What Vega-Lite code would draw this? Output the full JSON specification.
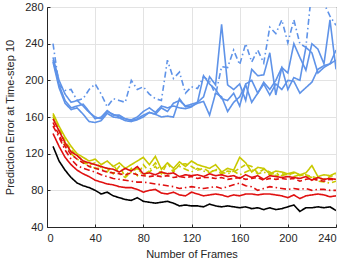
{
  "$schema": "https://vega.github.io/schema/vega-lite/v6.json",
  "width": 289,
  "height": 220,
  "autosize": "none",
  "padding": {"left": 47, "top": 7, "right": 11, "bottom": 36},
  "config": {
    "font": "Liberation Sans",
    "view": {"stroke": "#262626", "strokeWidth": 1},
    "axis": {
      "labelFontSize": 11,
      "titleFontSize": 11,
      "labelColor": "#262626",
      "titleColor": "#262626",
      "titleFontWeight": "normal",
      "domainColor": "#262626",
      "tickColor": "#262626",
      "gridColor": "#e3e3e3",
      "tickSize": -3
    }
  },
  "data": {"values": [
    {"f":5,"bdd":240,"bs1":225,"bs2":222,"bs3":220,"ys":164,"yd":162,"ydd":160,"rs1":158,"rd":154,"rdd":150,"rs2":142,"bk":128},
    {"f":10,"bdd":195,"bs1":200,"bs2":195,"bs3":192,"ys":150,"yd":148,"ydd":145,"rs1":145,"rd":140,"rdd":138,"rs2":128,"bk":112},
    {"f":15,"bdd":189,"bs1":185,"bs2":178,"bs3":175,"ys":138,"yd":134,"ydd":130,"rs1":132,"rd":128,"rdd":124,"rs2":116,"bk":102},
    {"f":20,"bdd":190,"bs1":176,"bs2":170,"bs3":168,"ys":128,"yd":124,"ydd":120,"rs1":122,"rd":119,"rdd":114,"rs2":108,"bk":94},
    {"f":25,"bdd":178,"bs1":178,"bs2":172,"bs3":170,"ys":120,"yd":118,"ydd":114,"rs1":118,"rd":114,"rdd":107,"rs2":102,"bk":88},
    {"f":30,"bdd":180,"bs1":172,"bs2":174,"bs3":163,"ys":116,"yd":112,"ydd":110,"rs1":112,"rd":110,"rdd":104,"rs2":98,"bk":85},
    {"f":35,"bdd":190,"bs1":165,"bs2":166,"bs3":155,"ys":112,"yd":108,"ydd":108,"rs1":110,"rd":106,"rdd":102,"rs2":95,"bk":83},
    {"f":40,"bdd":196,"bs1":160,"bs2":158,"bs3":154,"ys":114,"yd":110,"ydd":104,"rs1":108,"rd":104,"rdd":100,"rs2":91,"bk":80},
    {"f":45,"bdd":185,"bs1":158,"bs2":160,"bs3":156,"ys":108,"yd":105,"ydd":104,"rs1":106,"rd":102,"rdd":97,"rs2":89,"bk":76},
    {"f":50,"bdd":171,"bs1":166,"bs2":167,"bs3":164,"ys":112,"yd":104,"ydd":100,"rs1":104,"rd":100,"rdd":95,"rs2":87,"bk":78},
    {"f":55,"bdd":180,"bs1":163,"bs2":162,"bs3":160,"ys":106,"yd":98,"ydd":108,"rs1":103,"rd":99,"rdd":93,"rs2":86,"bk":74},
    {"f":60,"bdd":178,"bs1":160,"bs2":162,"bs3":159,"ys":110,"yd":106,"ydd":98,"rs1":100,"rd":98,"rdd":92,"rs2":84,"bk":72},
    {"f":65,"bdd":176,"bs1":158,"bs2":158,"bs3":156,"ys":104,"yd":95,"ydd":94,"rs1":104,"rd":97,"rdd":91,"rs2":83,"bk":70},
    {"f":70,"bdd":200,"bs1":157,"bs2":156,"bs3":155,"ys":108,"yd":104,"ydd":100,"rs1":101,"rd":99,"rdd":90,"rs2":83,"bk":69},
    {"f":75,"bdd":190,"bs1":160,"bs2":158,"bs3":157,"ys":112,"yd":96,"ydd":104,"rs1":106,"rd":97,"rdd":89,"rs2":81,"bk":72},
    {"f":80,"bdd":193,"bs1":166,"bs2":162,"bs3":160,"ys":116,"yd":108,"ydd":96,"rs1":98,"rd":96,"rdd":89,"rs2":78,"bk":68},
    {"f":85,"bdd":185,"bs1":170,"bs2":165,"bs3":165,"ys":108,"yd":100,"ydd":102,"rs1":99,"rd":95,"rdd":88,"rs2":80,"bk":67},
    {"f":90,"bdd":180,"bs1":165,"bs2":163,"bs3":163,"ys":117,"yd":106,"ydd":110,"rs1":97,"rd":96,"rdd":87,"rs2":81,"bk":66},
    {"f":95,"bdd":178,"bs1":172,"bs2":170,"bs3":160,"ys":103,"yd":98,"ydd":100,"rs1":100,"rd":95,"rdd":86,"rs2":77,"bk":67},
    {"f":100,"bdd":222,"bs1":170,"bs2":166,"bs3":161,"ys":110,"yd":110,"ydd":97,"rs1":98,"rd":96,"rdd":85,"rs2":76,"bk":68},
    {"f":105,"bdd":202,"bs1":172,"bs2":175,"bs3":160,"ys":104,"yd":100,"ydd":102,"rs1":99,"rd":94,"rdd":84,"rs2":78,"bk":66},
    {"f":110,"bdd":209,"bs1":170,"bs2":178,"bs3":180,"ys":111,"yd":108,"ydd":106,"rs1":95,"rd":95,"rdd":82,"rs2":75,"bk":63},
    {"f":115,"bdd":186,"bs1":169,"bs2":172,"bs3":171,"ys":106,"yd":109,"ydd":103,"rs1":97,"rd":94,"rdd":83,"rs2":74,"bk":64},
    {"f":120,"bdd":193,"bs1":171,"bs2":174,"bs3":172,"ys":112,"yd":106,"ydd":100,"rs1":96,"rd":95,"rdd":84,"rs2":78,"bk":63},
    {"f":125,"bdd":191,"bs1":176,"bs2":176,"bs3":175,"ys":108,"yd":102,"ydd":104,"rs1":97,"rd":93,"rdd":83,"rs2":76,"bk":63},
    {"f":130,"bdd":204,"bs1":182,"bs2":205,"bs3":177,"ys":106,"yd":104,"ydd":101,"rs1":95,"rd":94,"rdd":82,"rs2":74,"bk":62},
    {"f":135,"bdd":199,"bs1":204,"bs2":196,"bs3":162,"ys":104,"yd":100,"ydd":99,"rs1":98,"rd":94,"rdd":83,"rs2":75,"bk":65},
    {"f":140,"bdd":184,"bs1":195,"bs2":190,"bs3":186,"ys":108,"yd":102,"ydd":103,"rs1":96,"rd":93,"rdd":84,"rs2":76,"bk":63},
    {"f":145,"bdd":215,"bs1":261,"bs2":180,"bs3":182,"ys":100,"yd":98,"ydd":100,"rs1":97,"rd":94,"rdd":82,"rs2":75,"bk":62},
    {"f":150,"bdd":214,"bs1":195,"bs2":178,"bs3":166,"ys":104,"yd":101,"ydd":98,"rs1":95,"rd":92,"rdd":84,"rs2":73,"bk":63},
    {"f":155,"bdd":233,"bs1":190,"bs2":186,"bs3":176,"ys":102,"yd":100,"ydd":101,"rs1":96,"rd":93,"rdd":86,"rs2":75,"bk":62},
    {"f":160,"bdd":217,"bs1":196,"bs2":172,"bs3":182,"ys":116,"yd":104,"ydd":97,"rs1":93,"rd":94,"rdd":88,"rs2":74,"bk":61},
    {"f":165,"bdd":240,"bs1":178,"bs2":196,"bs3":195,"ys":110,"yd":108,"ydd":100,"rs1":97,"rd":92,"rdd":85,"rs2":76,"bk":62},
    {"f":170,"bdd":220,"bs1":212,"bs2":200,"bs3":176,"ys":100,"yd":106,"ydd":103,"rs1":94,"rd":93,"rdd":84,"rs2":76,"bk":60},
    {"f":175,"bdd":233,"bs1":205,"bs2":186,"bs3":186,"ys":105,"yd":99,"ydd":98,"rs1":96,"rd":94,"rdd":80,"rs2":75,"bk":61},
    {"f":180,"bdd":219,"bs1":206,"bs2":198,"bs3":196,"ys":104,"yd":103,"ydd":100,"rs1":92,"rd":91,"rdd":82,"rs2":76,"bk":59},
    {"f":185,"bdd":258,"bs1":230,"bs2":190,"bs3":184,"ys":98,"yd":100,"ydd":97,"rs1":96,"rd":93,"rdd":84,"rs2":76,"bk":61},
    {"f":190,"bdd":251,"bs1":184,"bs2":200,"bs3":196,"ys":101,"yd":96,"ydd":99,"rs1":95,"rd":92,"rdd":83,"rs2":75,"bk":59},
    {"f":195,"bdd":266,"bs1":214,"bs2":214,"bs3":190,"ys":100,"yd":98,"ydd":96,"rs1":94,"rd":93,"rdd":82,"rs2":74,"bk":60},
    {"f":200,"bdd":241,"bs1":208,"bs2":190,"bs3":200,"ys":98,"yd":97,"ydd":98,"rs1":95,"rd":92,"rdd":81,"rs2":72,"bk":62},
    {"f":205,"bdd":266,"bs1":240,"bs2":203,"bs3":199,"ys":100,"yd":99,"ydd":95,"rs1":94,"rd":93,"rdd":82,"rs2":75,"bk":64},
    {"f":210,"bdd":240,"bs1":225,"bs2":200,"bs3":186,"ys":97,"yd":96,"ydd":97,"rs1":93,"rd":90,"rdd":81,"rs2":71,"bk":57},
    {"f":215,"bdd":236,"bs1":211,"bs2":236,"bs3":192,"ys":99,"yd":97,"ydd":96,"rs1":95,"rd":92,"rdd":82,"rs2":74,"bk":61},
    {"f":220,"bdd":300,"bs1":240,"bs2":230,"bs3":198,"ys":107,"yd":95,"ydd":94,"rs1":91,"rd":93,"rdd":80,"rs2":75,"bk":61},
    {"f":225,"bdd":300,"bs1":234,"bs2":208,"bs3":212,"ys":95,"yd":93,"ydd":90,"rs1":94,"rd":91,"rdd":81,"rs2":76,"bk":62},
    {"f":230,"bdd":284,"bs1":218,"bs2":214,"bs3":216,"ys":97,"yd":92,"ydd":89,"rs1":92,"rd":90,"rdd":81,"rs2":75,"bk":61},
    {"f":235,"bdd":270,"bs1":266,"bs2":218,"bs3":218,"ys":96,"yd":95,"ydd":88,"rs1":93,"rd":92,"rdd":80,"rs2":73,"bk":62},
    {"f":240,"bdd":260,"bs1":212,"bs2":233,"bs3":222,"ys":99,"yd":97,"ydd":90,"rs1":92,"rd":91,"rdd":80,"rs2":74,"bk":58}
  ]},
  "transform": [
    {"fold": ["bdd","bs1","bs2","bs3","ys","yd","ydd","rd","rdd","rs2","rs1","bk"], "as": ["s","v"]}
  ],
  "mark": {"type": "line", "clip": true, "strokeWidth": 1.6},
  "encoding": {
    "x": {
      "field": "f", "type": "quantitative",
      "scale": {"domain": [0, 240], "nice": false},
      "axis": {"values": [0,40,80,120,160,200,240], "title": "Number of Frames", "labelPadding": 8, "titlePadding": 5, "grid": true}
    },
    "y": {
      "field": "v", "type": "quantitative",
      "scale": {"domain": [40, 280], "nice": false, "zero": false},
      "axis": {"values": [40,80,120,160,200,240,280], "title": "Prediction Error at Time-step 10", "labelPadding": 7, "titlePadding": 9, "grid": true}
    },
    "color": {
      "field": "s", "type": "nominal", "legend": null,
      "scale": {
        "domain": ["bdd","bs1","bs2","bs3","ys","yd","ydd","rd","rdd","rs2","rs1","bk"],
        "range": ["#5f93e8","#5f93e8","#5f93e8","#5f93e8","#c9c900","#c9c900","#c9c900","#e01010","#e01010","#e01010","#e01010","#000000"]
      }
    },
    "strokeDash": {
      "field": "s", "type": "nominal", "legend": null,
      "scale": {
        "domain": ["bdd","bs1","bs2","bs3","ys","yd","ydd","rd","rdd","rs2","rs1","bk"],
        "range": [[6,3,1.5,3],[1,0],[1,0],[1,0],[1,0],[5,3],[6,3,1.5,3],[5,3],[6,3,1.5,3],[1,0],[1,0],[1,0]]
      }
    }
  }
}
